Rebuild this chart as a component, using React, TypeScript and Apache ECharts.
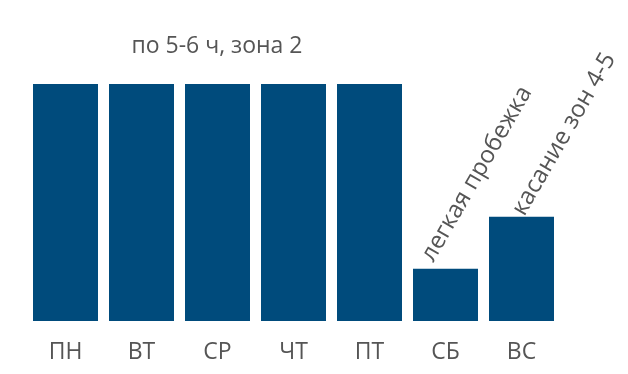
import React, { useEffect, useRef } from "react";
import * as echarts from "echarts";

const days = ["ПН", "ВТ", "СР", "ЧТ", "ПТ", "СБ", "ВС"];
const values = [100, 100, 100, 100, 100, 22, 44];
const barNotes = ["", "", "", "", "", "легкая пробежка", "касание зон 4-5"];
const titleText = "по 5-6 ч, зона 2";

const FONT = "'Open Sans', sans-serif";
const GRAY = "#555555";
const BLUE = "#004b7c";
const noteOffsets: number[][] = [[0, 0], [0, 0], [0, 0], [0, 0], [0, 0], [-1, -23], [1, -7]];

export default function App() {
  const ref = useRef<HTMLDivElement>(null);
  useEffect(() => {
    if (!ref.current) return;
    const chart = echarts.init(ref.current, undefined, { renderer: "svg" });
    chart.setOption({
      animation: false,
      grid: { left: 27.5, right: 68.5, top: 84, bottom: 53 },
      xAxis: {
        type: "category",
        data: days,
        axisLine: { show: false },
        axisTick: { show: false },
        axisLabel: { color: GRAY, fontSize: 23, fontFamily: FONT, margin: 17 },
      },
      yAxis: {
        type: "value",
        min: 0,
        max: 100,
        show: false,
        splitLine: { show: false },
      },
      graphic: [
        {
          type: "text",
          x: 217,
          y: 44,
          style: {
            text: titleText,
            fill: GRAY,
            fontSize: 23,
            fontFamily: FONT,
            textAlign: "center",
            textVerticalAlign: "middle",
          },
        },
      ],
      series: [
        {
          type: "bar",
          data: values.map((v, i) => ({
            value: v,
            label: {
              show: barNotes[i] !== "",
              formatter: barNotes[i],
              offset: noteOffsets[i],
            },
          })),
          barWidth: 65,
          itemStyle: { color: BLUE },
          label: {
            position: "top",
            distance: 0,
            rotate: 60,
            align: "left",
            verticalAlign: "middle",
            color: GRAY,
            fontSize: 24,
            fontFamily: FONT,
          },
        },
      ],
    });
    return () => chart.dispose();
  }, []);
  return (
    <div
      ref={ref}
      style={{ position: "fixed", left: 0, top: 0, width: 628, height: 374 }}
    />
  );
}
